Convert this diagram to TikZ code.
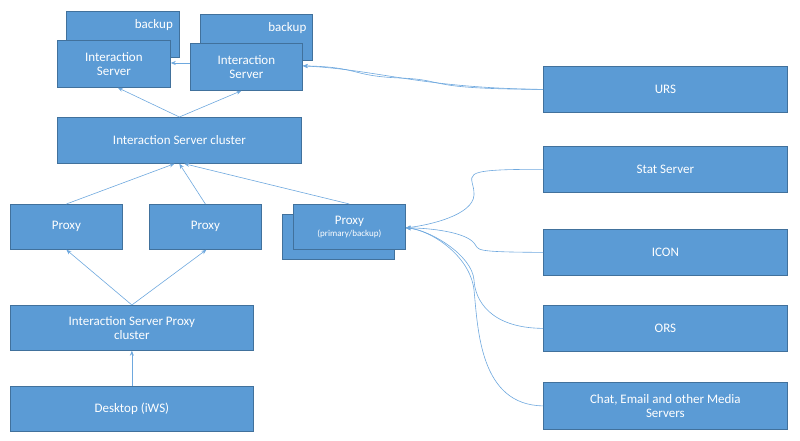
\documentclass[tikz,border=0pt]{standalone}
\usepackage{fontspec}
\setmainfont{Carlito}
\usetikzlibrary{arrows.meta}
\definecolor{boxfill}{RGB}{91,155,213}
\definecolor{boxline}{RGB}{65,113,156}
\definecolor{linkline}{RGB}{110,168,222}
\tikzset{every picture/.style={line width=0.75pt}}
\tikzset{blk/.style={draw=boxline,fill=boxfill,text=white,inner sep=0.75pt,align=center,font=\fontsize{13}{14}\selectfont,minimum height=46pt},
  lnk/.style={draw=linkline,line width=0.6pt,-{Stealth[length=5pt,width=4pt]}}}
\begin{document}
\begin{tikzpicture}[x=1pt,y=1pt,yscale=-1,xscale=1]
\useasboundingbox (0,0) rectangle (800,441);

% Backup boxes
\node [blk,minimum width=113pt,anchor=north west,text depth=20pt,align=right,inner xsep=6pt,text width=100pt] (bk1) at (66,11) {backup};
\node [blk,minimum width=112pt,anchor=north west,text depth=20pt,align=right,inner xsep=6pt,text width=100pt] (bk2) at (200,14) {backup};
% Interaction Servers
\node [blk,minimum width=113pt,minimum height=47pt,anchor=north west] (is1) at (57,40) {Interaction\\Server};
\node [blk,minimum width=112pt,minimum height=47pt,anchor=north west] (is2) at (190,43) {Interaction\\Server};
% Cluster
\node [blk,minimum width=244pt,anchor=north west] (iscl) at (57,117) {Interaction Server cluster};
% Proxies
\node [blk,minimum width=112pt,minimum height=45pt,anchor=north west] (px1) at (10,204) {Proxy};
\node [blk,minimum width=112pt,minimum height=45pt,anchor=north west] (px2) at (149,204) {Proxy};
\node [blk,minimum width=112pt,minimum height=45pt,anchor=north west] (px3b) at (282,214) {};
\node [blk,minimum width=112pt,minimum height=45pt,anchor=north west] (px3) at (293,204) {Proxy\\[-2pt]{\fontsize{9}{10}\selectfont (primary/backup)}};
% Proxy cluster and desktop
\node [blk,minimum width=243pt,minimum height=45pt,anchor=north west] (pxcl) at (10,305) {Interaction Server Proxy\\cluster};
\node [blk,minimum width=243pt,minimum height=45pt,anchor=north west] (iws) at (10,386) {Desktop (iWS)};
% Right column
\node [blk,minimum width=244pt,anchor=north west] (urs) at (543,66) {URS};
\node [blk,minimum width=244pt,anchor=north west] (stat) at (543,146) {Stat Server};
\node [blk,minimum width=244pt,anchor=north west] (icon) at (543,229) {ICON};
\node [blk,minimum width=244pt,anchor=north west] (ors) at (543,305) {ORS};
\node [blk,minimum width=244pt,minimum height=47pt,anchor=north west] (media) at (543,382) {Chat, Email and other Media\\Servers};

% Connections
\draw [lnk] (is2.west |- 0,63) -- (is1.east |- 0,63);
\draw [lnk] (iscl.north) -- ([xshift=4pt]is1.south);
\draw [lnk] (iscl.north) -- ([xshift=-5pt]is2.south);
\draw [lnk] (px1.north) -- ([xshift=-5pt]iscl.south);
\draw [lnk] (px2.north) -- (iscl.south);
\draw [lnk] (px3.north) -- ([xshift=5pt]iscl.south);
\draw [lnk] (pxcl.north) -- (px1.south);
\draw [lnk] (pxcl.north) -- ([xshift=1pt]px2.south);
\draw [lnk] (iws.north) -- (pxcl.south);
\draw [lnk] (urs.west) .. controls (420,89) and (450,80) .. (400,78) .. controls (350,76) and (360,67) .. ([yshift=-1pt]is2.east);
\draw [lnk] (urs.west) .. controls (420,88) and (380,70) .. ([yshift=-1pt]is2.east);
\draw [lnk] (stat.west) .. controls (450,169) and (475,175) .. (474,195) .. controls (473,215) and (430,225) .. ([yshift=1pt]px3.east);
\draw [lnk] (icon.west) .. controls (470,252) and (480,250) .. (474,243) .. controls (465,232) and (430,228) .. ([yshift=1pt]px3.east);
\draw [lnk] (ors.west) .. controls (490,328) and (475,300) .. (474,280) .. controls (472,255) and (430,230) .. ([yshift=1pt]px3.east);
\draw [lnk] (media.west) .. controls (480,405) and (478,330) .. (474,290) .. controls (470,255) and (430,230) .. ([yshift=1pt]px3.east);

\end{tikzpicture}
\end{document}
